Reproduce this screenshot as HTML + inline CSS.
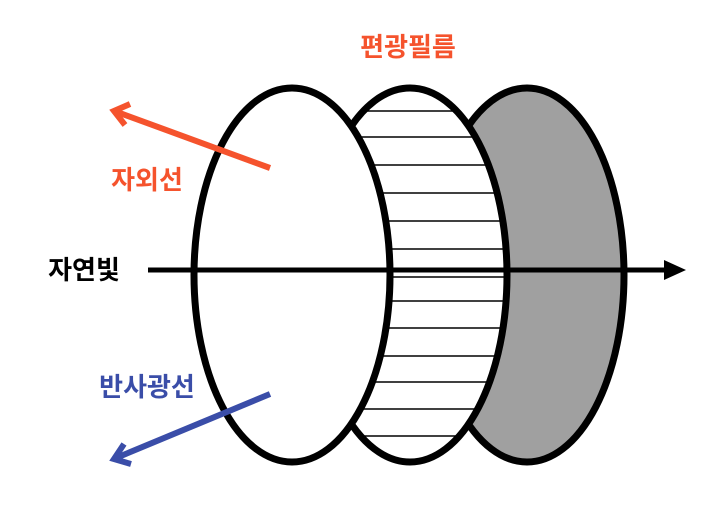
<!DOCTYPE html>
<html><head><meta charset="utf-8"><style>
html,body{margin:0;padding:0;background:#fff;}
svg{display:block}
text{font-family:"Liberation Sans","Noto Sans CJK KR",sans-serif;font-weight:bold;font-size:26px}
</style></head><body>
<svg width="728" height="512" viewBox="0 0 728 512" xmlns="http://www.w3.org/2000/svg">
<defs>
<clipPath id="mid"><ellipse cx="410" cy="275" rx="97" ry="187"/></clipPath>
</defs>
<ellipse cx="527" cy="275" rx="97" ry="187" fill="#a0a0a0" stroke="#000" stroke-width="7"/>
<ellipse cx="410" cy="275" rx="97" ry="187" fill="#fff" stroke="none"/>
<g clip-path="url(#mid)" stroke="#000" stroke-width="1.5">
<line x1="300" y1="111" x2="520" y2="111"/>
<line x1="300" y1="137" x2="520" y2="137"/>
<line x1="300" y1="165" x2="520" y2="165"/>
<line x1="300" y1="193" x2="520" y2="193"/>
<line x1="300" y1="221" x2="520" y2="221"/>
<line x1="300" y1="249" x2="520" y2="249"/>
<line x1="300" y1="277" x2="520" y2="277"/>
<line x1="300" y1="301" x2="520" y2="301"/>
<line x1="300" y1="328" x2="520" y2="328"/>
<line x1="300" y1="356" x2="520" y2="356"/>
<line x1="300" y1="382" x2="520" y2="382"/>
<line x1="300" y1="409" x2="520" y2="409"/>
<line x1="300" y1="436" x2="520" y2="436"/>
</g>
<ellipse cx="410" cy="275" rx="97" ry="187" fill="none" stroke="#000" stroke-width="7"/>
<ellipse cx="292" cy="275" rx="98" ry="187" fill="#fff" stroke="#000" stroke-width="7"/>
<line x1="148" y1="270" x2="672" y2="270" stroke="#000" stroke-width="5"/>
<polygon points="686,270 664,260 664,280" fill="#000"/>
<line x1="270" y1="168" x2="117" y2="112" stroke="#F5532D" stroke-width="6"/>
<polyline points="130,104 114,111 125,125" fill="none" stroke="#F5532D" stroke-width="6"/>
<line x1="270" y1="394" x2="116" y2="458" stroke="#3A4DA8" stroke-width="6"/>
<polyline points="124,444 114,459 131,464" fill="none" stroke="#3A4DA8" stroke-width="6"/>
<text x="408" y="56" text-anchor="middle" fill="#F5532D">편광필름</text>
<text x="147" y="189" text-anchor="middle" fill="#F5532D">자외선</text>
<text x="84" y="279" text-anchor="middle" fill="#000">자연빛</text>
<text x="147" y="396" text-anchor="middle" fill="#3A4DA8">반사광선</text>
</svg>
</body></html>
